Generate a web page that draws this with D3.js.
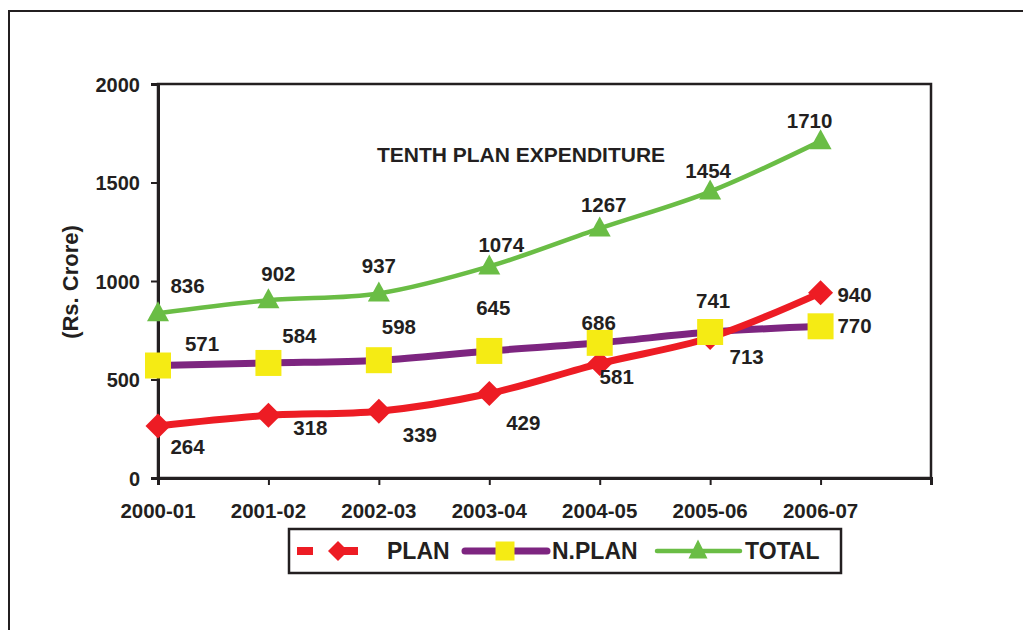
<!DOCTYPE html>
<html>
<head>
<meta charset="utf-8">
<script src="https://cdn.jsdelivr.net/npm/d3@7"></script>
<style>
  html, body { margin: 0; padding: 0; background: #fff; }
  text { font-family: "Liberation Sans", Arial, sans-serif; font-weight: bold; fill: #231f20; }
</style>
</head>
<body>
<svg id="chart" width="1023" height="630"></svg>
<script>
// ---- data ----
const categories = ["2000-01", "2001-02", "2002-03", "2003-04", "2004-05", "2005-06", "2006-07"];
const planValues = [264, 318, 339, 429, 581, 713, 940];
const nplanValues = [571, 584, 598, 645, 686, 741, 770];
const totalValues = [836, 902, 937, 1074, 1267, 1454, 1710];
const yTicks = [0, 500, 1000, 1500, 2000];
const seriesNames = ["PLAN", "N.PLAN", "TOTAL"];
const chartTitle = "TENTH PLAN EXPENDITURE";
const yTitle = "(Rs. Crore)";

// ---- label placement (layout, not data) ----
const planLabelOffsets  = [[29.5,28],[42,20],[41,31],[34,37],[17,20.5],[36.5,26],[34,9]];
const nplanLabelOffsets = [[44,-15],[31,-20],[20,-26],[4,-36],[-1,-13],[3,-24],[34,7]];
const totalLabelOffsets = [[29.5,-20],[10,-19],[0,-20],[12,-14],[4,-16],[-2,-14],[-11,-13]];

const INK = "#231f20";
const RED = "#ed1c24", PURPLE = "#7d2580", YELLOW = "#f5eb14", GREEN = "#6abd45";

const svg = d3.select("#chart");
svg.append("rect").attr("width", 1023).attr("height", 630).attr("fill", "#fff");

// outer frame
svg.append("path").attr("d", "M9,640 L9,11 L1030,11")
  .attr("fill", "none").attr("stroke", INK).attr("stroke-width", 2);

const x = d3.scaleLinear().domain([0, categories.length]).range([158, 931]);
const y = d3.scaleLinear().domain([0, 2000]).range([478, 84]);

// plot border
svg.append("rect").attr("x", x(0)).attr("y", y(2000))
  .attr("width", x(categories.length) - x(0)).attr("height", y(0) - y(2000))
  .attr("fill", "none").attr("stroke", INK).attr("stroke-width", 2.5);

// y axis
const yAxis = d3.axisLeft(y).tickValues(yTicks).tickSize(7).tickPadding(11).tickFormat(d3.format("d"));
const gy = svg.append("g").attr("transform", `translate(${x(0)},0)`).call(yAxis);
gy.select(".domain").attr("stroke", INK).attr("stroke-width", 3);
gy.selectAll(".tick line").attr("stroke", INK).attr("stroke-width", 2);
gy.selectAll(".tick text").style("font-size", "20px").attr("fill", INK).attr("dy", "0.36em");

// x axis
const xAxis = d3.axisBottom(x).tickValues(d3.range(0, categories.length + 1)).tickSize(7).tickFormat(() => "");
const gx = svg.append("g").attr("transform", `translate(0,${y(0)})`).call(xAxis);
gx.select(".domain").attr("stroke", INK).attr("stroke-width", 3);
gx.selectAll(".tick line").attr("stroke", INK).attr("stroke-width", 2);

svg.append("g").selectAll("text").data(categories).join("text")
  .attr("x", (d, i) => x(i)).attr("y", 518).attr("text-anchor", "middle")
  .style("font-size", "20.5px").text(d => d);

// y title
svg.append("text").attr("transform", "translate(78,282) rotate(-90)")
  .attr("text-anchor", "middle").style("font-size", "22px").text(yTitle);

// chart title
svg.append("text").attr("x", 521).attr("y", 162).attr("text-anchor", "middle")
  .style("font-size", "21px").text(chartTitle);

const line = d3.line().x((d, i) => x(i)).y(d => y(d)).curve(d3.curveCardinal.tension(0));

svg.append("path").datum(nplanValues).attr("d", line).attr("fill", "none")
  .attr("stroke", PURPLE).attr("stroke-width", 7).attr("stroke-linejoin", "round");
svg.append("path").datum(planValues).attr("d", line).attr("fill", "none")
  .attr("stroke", RED).attr("stroke-width", 7).attr("stroke-linejoin", "round");
svg.append("path").datum(totalValues).attr("d", line).attr("fill", "none")
  .attr("stroke", GREEN).attr("stroke-width", 4.5).attr("stroke-linejoin", "round");

const diamond = (s) => `M0,${-s}L${s},0L0,${s}L${-s},0Z`;
const square = (s) => `M${-s},${-s}H${s}V${s}H${-s}Z`;
const triangle = (w, h) => `M0,${-h*0.6}L${w/2},${h*0.4}L${-w/2},${h*0.4}Z`;

svg.append("g").selectAll("path").data(planValues).join("path")
  .attr("transform", (d, i) => `translate(${x(i)},${y(d)})`)
  .attr("d", diamond(12.5)).attr("fill", RED);
svg.append("g").selectAll("path").data(nplanValues).join("path")
  .attr("transform", (d, i) => `translate(${x(i)},${y(d)})`)
  .attr("d", square(13)).attr("fill", YELLOW);
svg.append("g").selectAll("path").data(totalValues).join("path")
  .attr("transform", (d, i) => `translate(${x(i)},${y(d)})`)
  .attr("d", triangle(22, 20)).attr("fill", GREEN);

// data labels
function labels(vals, offs) {
  svg.append("g").selectAll("text").data(vals).join("text")
    .attr("x", (d, i) => x(i) + offs[i][0])
    .attr("y", (d, i) => y(d) + offs[i][1])
    .attr("text-anchor", "middle").style("font-size", "20.5px").text(d => d);
}
labels(planValues, planLabelOffsets);
labels(nplanValues, nplanLabelOffsets);
labels(totalValues, totalLabelOffsets);

// legend
const lg = svg.append("g");
lg.append("rect").attr("x", 289).attr("y", 529).attr("width", 552).attr("height", 44)
  .attr("fill", "#fff").attr("stroke", INK).attr("stroke-width", 2.5);
const ly = 551;
// PLAN
lg.append("line").attr("x1", 297).attr("x2", 313).attr("y1", ly).attr("y2", ly)
  .attr("stroke", RED).attr("stroke-width", 8);
lg.append("line").attr("x1", 338).attr("x2", 358).attr("y1", ly).attr("y2", ly)
  .attr("stroke", RED).attr("stroke-width", 8);
lg.append("path").attr("transform", `translate(338,${ly})`).attr("d", diamond(10)).attr("fill", RED);
lg.append("text").attr("x", 387).attr("y", 559).style("font-size", "23px").text(seriesNames[0]);
// N.PLAN
lg.append("line").attr("x1", 465).attr("x2", 547).attr("y1", ly).attr("y2", ly)
  .attr("stroke", PURPLE).attr("stroke-width", 7).attr("stroke-linecap", "round");
lg.append("path").attr("transform", `translate(505,${ly})`).attr("d", square(9.5)).attr("fill", YELLOW);
lg.append("text").attr("x", 552).attr("y", 559).style("font-size", "23px").text(seriesNames[1]);
// TOTAL
lg.append("line").attr("x1", 657).attr("x2", 740).attr("y1", ly).attr("y2", ly)
  .attr("stroke", GREEN).attr("stroke-width", 4.5).attr("stroke-linecap", "round");
lg.append("path").attr("transform", `translate(698,${ly})`).attr("d", triangle(19, 19)).attr("fill", GREEN);
lg.append("text").attr("x", 745).attr("y", 559).style("font-size", "23px").text(seriesNames[2]);
</script>
</body>
</html>
